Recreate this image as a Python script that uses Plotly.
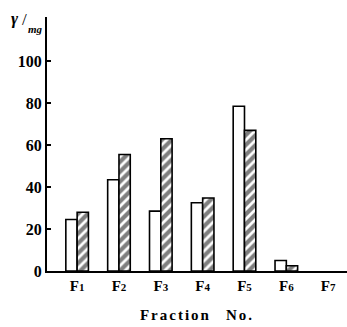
import plotly.graph_objects as go

fractions = ["F1", "F2", "F3", "F4", "F5", "F6", "F7"]
open_vals = [24.5, 43.5, 28.5, 32.5, 78.5, 5.0, None]
hatched_vals = [28.0, 55.5, 63.0, 34.8, 67.0, 2.5, None]
y_ticks = [0, 20, 40, 60, 80, 100]

tick_text = [f"<b>F<span style='font-size:11px'>{f[1:]}</span></b>" for f in fractions]
y_text = [f"<b>{v}</b>" for v in y_ticks]

fig = go.Figure()
fig.add_trace(go.Bar(
    x=fractions, y=open_vals,
    marker=dict(color="white", line=dict(color="black", width=1.6)),
    width=0.27, offset=-0.27,
))
fig.add_trace(go.Bar(
    x=fractions, y=hatched_vals,
    marker=dict(color="white", line=dict(color="black", width=1.6),
                pattern=dict(shape="/", fgcolor="black", bgcolor="white",
                             size=7, solidity=0.6)),
    width=0.27, offset=0,
))

font_fam = "Liberation Serif, DejaVu Serif, serif"
fig.update_layout(
    width=347, height=327,
    margin=dict(l=47, r=0, t=17, b=56),
    paper_bgcolor="white", plot_bgcolor="white",
    showlegend=False,
    barmode="group",
    font=dict(family=font_fam, color="black", size=15),
    xaxis=dict(
        type="category", range=[-0.72, 6.45],
        tickmode="array", tickvals=fractions, ticktext=tick_text,
        showline=True, linecolor="black", linewidth=2,
        ticks="", showgrid=False, zeroline=False,
        tickfont=dict(size=15, family=font_fam),
        title=dict(text="<b><span style='letter-spacing:2px'>Fraction</span>&nbsp;&nbsp;&nbsp;&nbsp;<span style='letter-spacing:2px'>No.</span></b>",
                   font=dict(size=15, family=font_fam), standoff=16),
    ),
    yaxis=dict(
        range=[0, 121],
        tickmode="array", tickvals=y_ticks, ticktext=y_text,
        showline=True, linecolor="black", linewidth=2,
        ticks="inside", ticklen=4, tickwidth=1.5, tickcolor="black",
        showgrid=False, zeroline=False,
        tickfont=dict(size=16, family=font_fam),
    ),
)
ann_font = dict(family=font_fam, color="black")
fig.add_annotation(xref="paper", yref="paper", x=(15 - 47) / 300, y=(271 - 18) / 254,
                   xanchor="center", yanchor="middle", showarrow=False,
                   text="<b><i>γ</i></b>", font=dict(size=17, **ann_font))
fig.add_annotation(xref="paper", yref="paper", x=(24 - 47) / 300, y=(271 - 20) / 254,
                   xanchor="center", yanchor="middle", showarrow=False,
                   text="/", font=dict(size=17, **ann_font))
fig.add_annotation(xref="paper", yref="paper", x=(35 - 47) / 300, y=(271 - 29) / 254,
                   xanchor="center", yanchor="middle", showarrow=False,
                   text="<b><i>mg</i></b>", font=dict(size=11, **ann_font))
fig.write_html("out.html")
